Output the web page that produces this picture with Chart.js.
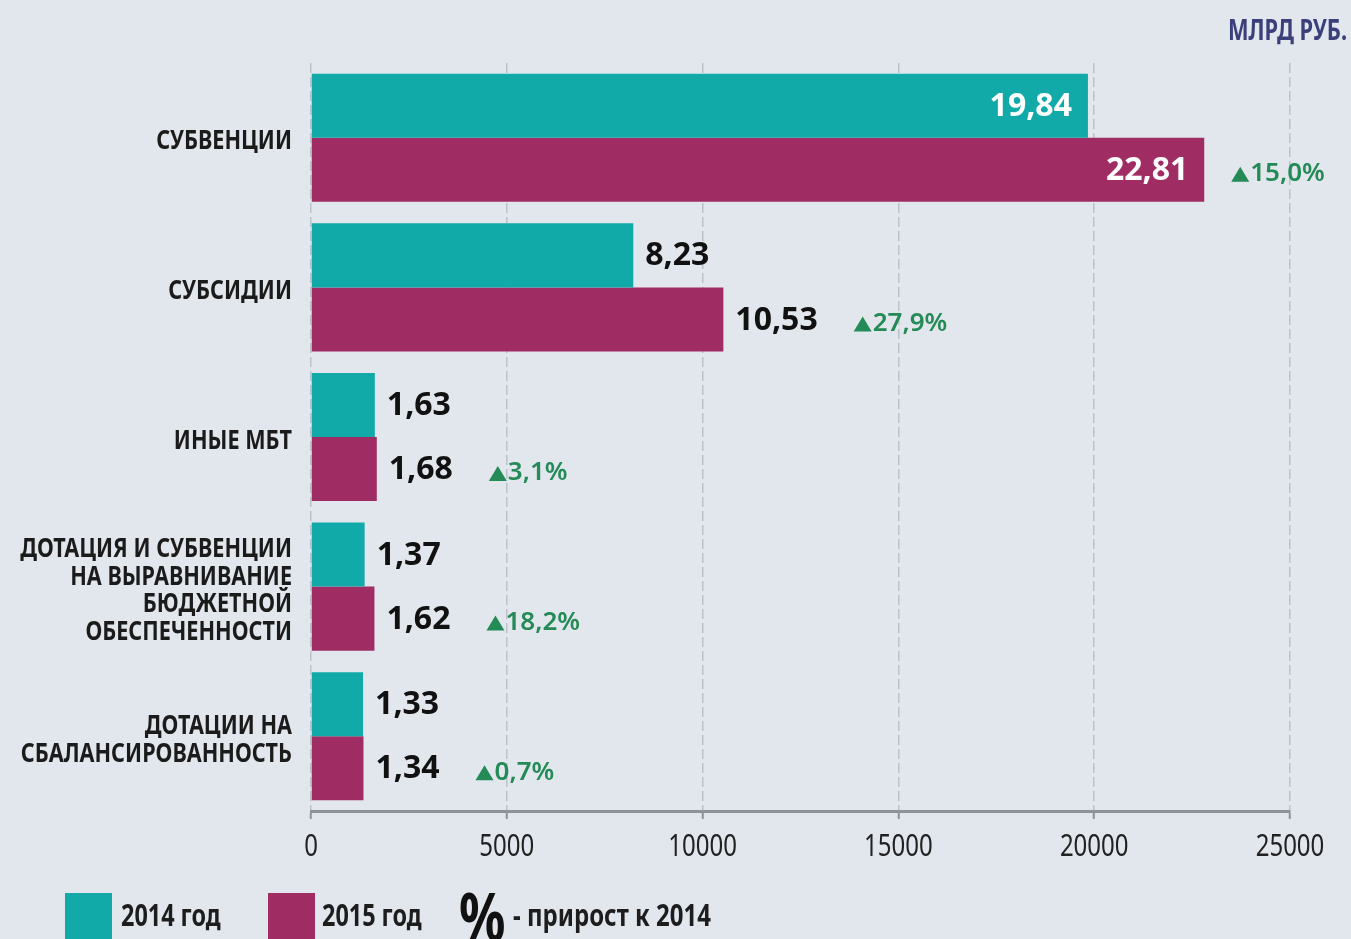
<!DOCTYPE html>
<html>
<head>
<meta charset="utf-8">
<script src="https://cdn.jsdelivr.net/npm/chart.js@4/dist/chart.umd.min.js"></script>
<style>
  html, body { margin: 0; padding: 0; width: 1351px; height: 939px; overflow: hidden; background: #e2e7ee; }
  #wrap { position: relative; width: 1351px; height: 939px; }
  canvas { position: absolute; left: 0; top: 0; }
  .cond { font-family: 'Noto Sans', sans-serif; transform: scaleX(0.78); transform-origin: left top; }
  #unit { position: absolute; left: 1228px; top: 10px; font-size: 28px; font-weight: bold; color: #3b3f7a; white-space: nowrap; }
  .sw { position: absolute; top: 893px; width: 47px; height: 50px; }
  .lt { position: absolute; top: 897px; font-size: 30px; font-weight: bold; color: #1d1d1d; white-space: nowrap; line-height: 1.2; }
  #pct { position: absolute; left: 459px; top: 882px; font-size: 66px; font-weight: bold; color: #111; font-family: 'Noto Sans', sans-serif; line-height: 1; transform: scaleX(0.78); transform-origin: left top; }
</style>
</head>
<body>
<div id="wrap">
  <canvas id="c" width="1351" height="939"></canvas>
  <div id="unit" class="cond">МЛРД РУБ.</div>
  <div class="sw" style="left:65px;background:#12aaa9"></div>
  <div class="lt cond" style="left:121px">2014 год</div>
  <div class="sw" style="left:268px;background:#a02c64"></div>
  <div class="lt cond" style="left:322px">2015 год</div>
  <div id="pct">%</div>
  <div class="lt cond" style="left:513px;transform:scaleX(0.8)">- прирост к 2014</div>
</div>
<script>
const categories = [
  ["СУБВЕНЦИИ"],
  ["СУБСИДИИ"],
  ["ИНЫЕ МБТ"],
  ["ДОТАЦИЯ И СУБВЕНЦИИ", "НА ВЫРАВНИВАНИЕ", "БЮДЖЕТНОЙ", "ОБЕСПЕЧЕННОСТИ"],
  ["ДОТАЦИИ НА", "СБАЛАНСИРОВАННОСТЬ"]
];
const seriesNames = ["2014 год", "2015 год"];
const values2014 = [19840, 8230, 1630, 1370, 1330];
const values2015 = [22810, 10530, 1680, 1620, 1340];
const labels2014 = ["19,84", "8,23", "1,63", "1,37", "1,33"];
const labels2015 = ["22,81", "10,53", "1,68", "1,62", "1,34"];
const growthLabels = ["15,0%", "27,9%", "3,1%", "18,2%", "0,7%"];
const xTicks = [0, 5000, 10000, 15000, 20000, 25000];

const TEAL = '#12aaa9';
const MAGENTA = '#a02c64';
const GREEN = '#248a56';

// Draw condensed text (horizontal squeeze) since no condensed font is installed
function condText(ctx, txt, x, y, align, sq) {
  ctx.save();
  ctx.translate(x, y);
  ctx.scale(sq, 1);
  ctx.textAlign = align;
  ctx.fillText(txt, 0, 0);
  ctx.restore();
}

const axisLabelPlugin = {
  id: 'axisLabels',
  afterDraw(chart) {
    const ctx = chart.ctx;
    const ys = chart.scales.y;
    const xs = chart.scales.x;
    ctx.save();
    ctx.font = "bold 27px 'Noto Sans', sans-serif";
    ctx.fillStyle = '#1b1b1b';
    ctx.textBaseline = 'middle';
    const lh = 27.5;
    chart.data.labels.forEach((lines, i) => {
      const yc = ys.getPixelForValue(i) + 4;
      const y0 = yc - (lines.length - 1) * lh / 2;
      lines.forEach((ln, k) => condText(ctx, ln, ys.right - 19, y0 + k * lh, 'right', 0.8));
    });
    ctx.font = "30px 'Noto Sans', sans-serif";
    ctx.fillStyle = '#222';
    xTicks.forEach(v => condText(ctx, String(v), xs.getPixelForValue(v), xs.top + 36, 'center', 0.8));
    ctx.restore();
  }
};

const valueLabelPlugin = {
  id: 'valueLabels',
  afterDatasetsDraw(chart) {
    const ctx = chart.ctx;
    const textSets = [labels2014, labels2015];
    ctx.save();
    ctx.font = "bold 32px 'Noto Sans', sans-serif";
    ctx.textBaseline = 'middle';
    const ends = [];
    [0, 1].forEach(di => {
      const meta = chart.getDatasetMeta(di);
      meta.data.forEach((el, i) => {
        const txt = textSets[di][i];
        const inside = chart.data.datasets[di].data[i] > 15000;
        if (inside) {
          ctx.fillStyle = '#ffffff';
          ctx.textAlign = 'right';
          ctx.fillText(txt, el.x - 16, el.y + 1);
          if (di === 1) ends[i] = el.x + 27;
        } else {
          ctx.fillStyle = '#111111';
          ctx.textAlign = 'left';
          ctx.fillText(txt, el.x + 12, el.y + 1);
          if (di === 1) ends[i] = el.x + 12 + ctx.measureText(txt).width + 36;
        }
      });
    });
    const meta1 = chart.getDatasetMeta(1);
    ctx.font = "600 26px 'Noto Sans', sans-serif";
    ctx.textAlign = 'left';
    ctx.fillStyle = GREEN;
    meta1.data.forEach((el, i) => {
      const x = ends[i];
      const y = el.y + 4;
      ctx.beginPath();
      ctx.moveTo(x, y + 8);
      ctx.lineTo(x + 18, y + 8);
      ctx.lineTo(x + 9, y - 7);
      ctx.closePath();
      ctx.fill();
      ctx.fillText(growthLabels[i], x + 19, y);
    });
    ctx.restore();
  }
};

new Chart(document.getElementById('c'), {
  type: 'bar',
  data: {
    labels: categories,
    datasets: [
      { label: seriesNames[0], data: values2014, backgroundColor: TEAL, categoryPercentage: 0.856, barPercentage: 1.0 },
      { label: seriesNames[1], data: values2015, backgroundColor: MAGENTA, categoryPercentage: 0.856, barPercentage: 1.0 }
    ]
  },
  options: {
    indexAxis: 'y',
    responsive: false,
    animation: false,
    layout: { padding: { top: 63, right: 61, left: 0, bottom: 0 } },
    plugins: { legend: { display: false }, tooltip: { enabled: false } },
    scales: {
      x: {
        min: 0, max: 25000,
        afterBuildTicks: (s) => { s.ticks = xTicks.map(v => ({ value: v })); },
        afterFit: (s) => { s.height = 128; },
        grid: { color: '#bcc2ca', lineWidth: 1.5, tickLength: 8, tickColor: '#8d9299', tickWidth: 2 },
        border: { display: true, color: '#8d9299', width: 3, dash: [10, 4] },
        ticks: { display: false }
      },
      y: {
        afterFit: (s) => { s.width = 311; },
        grid: { display: false, drawTicks: false },
        border: { display: false },
        ticks: { display: false }
      }
    }
  },
  plugins: [valueLabelPlugin, axisLabelPlugin]
});
</script>
</body>
</html>
